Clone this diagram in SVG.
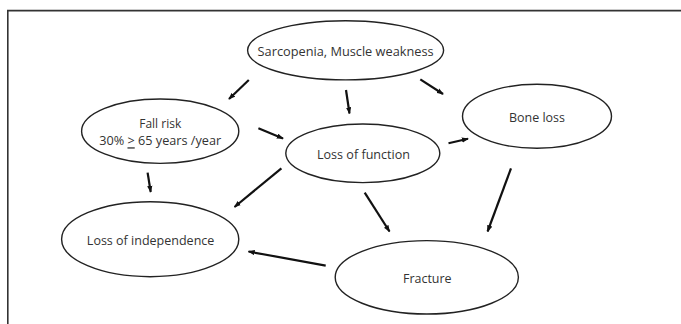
<svg xmlns="http://www.w3.org/2000/svg" width="681" height="324" viewBox="0 0 681 324">
<defs>
<marker id="ah" viewBox="0 0 8 6" refX="7" refY="3" markerWidth="3.2" markerHeight="2.6" orient="auto" markerUnits="strokeWidth">
<path d="M0,0 L8,3 L0,6 Z" fill="#111"/>
</marker>
<style>
.n{fill:#fff;stroke:#222;stroke-width:1.4}
.t{font-family:"Open Sans","Liberation Sans",sans-serif;font-size:13px;fill:#333;text-anchor:middle;dominant-baseline:central}
.c{stroke:#111;stroke-width:2.2;fill:none;marker-end:url(#ah)}
.f{stroke:#333;stroke-width:1.6;fill:none}
</style>
</defs>
<rect width="681" height="324" fill="#fff"/>
<path class="f" d="M7.8,324 V10.6 H681"/>
<g id="connectors">
<line class="c" x1="248.8" y1="80" x2="229" y2="99"/>
<line class="c" x1="346" y1="90" x2="349.5" y2="113.5"/>
<line class="c" x1="420.3" y1="79.3" x2="443" y2="94"/>
<line class="c" x1="258.4" y1="128.3" x2="283" y2="138.5"/>
<line class="c" x1="448.5" y1="143.3" x2="468" y2="138.7"/>
<line class="c" x1="147.6" y1="172.7" x2="150.7" y2="192"/>
<line class="c" x1="281.4" y1="168.3" x2="234.5" y2="207"/>
<line class="c" x1="364.7" y1="192.7" x2="389.5" y2="231.5"/>
<line class="c" x1="511" y1="168.3" x2="487.6" y2="231.5"/>
<line class="c" x1="325.7" y1="265.7" x2="248.5" y2="251.5"/>
</g>
<g id="sarcopenia">
<ellipse class="n" cx="345.6" cy="50.3" rx="98" ry="29.6"/>
<text class="t" x="345.6" y="50.5" textLength="176" lengthAdjust="spacingAndGlyphs">Sarcopenia, Muscle weakness</text>
</g>
<g id="fall-risk">
<ellipse class="n" cx="160.2" cy="131.2" rx="78.6" ry="32.2"/>
<text class="t" x="160.2" y="122.7" textLength="42" lengthAdjust="spacingAndGlyphs">Fall risk</text>
<text class="t" x="160.2" y="140.3" textLength="122" lengthAdjust="spacingAndGlyphs">30% <tspan text-decoration="underline">&gt;</tspan> 65 years /year</text>
</g>
<g id="loss-of-function">
<ellipse class="n" cx="362.8" cy="153.3" rx="77" ry="29.3"/>
<text class="t" x="363.5" y="154" textLength="93" lengthAdjust="spacingAndGlyphs">Loss of function</text>
</g>
<g id="bone-loss">
<ellipse class="n" cx="537" cy="116.3" rx="74.5" ry="32"/>
<text class="t" x="537" y="117.3" textLength="56" lengthAdjust="spacingAndGlyphs">Bone loss</text>
</g>
<g id="loss-of-independence">
<ellipse class="n" cx="150.2" cy="239.2" rx="88.6" ry="37.5"/>
<text class="t" x="150.6" y="240" textLength="127.5" lengthAdjust="spacingAndGlyphs">Loss of independence</text>
</g>
<g id="fracture">
<ellipse class="n" cx="426.8" cy="277.3" rx="91.6" ry="36.7"/>
<text class="t" x="427.3" y="277.7" textLength="48.5" lengthAdjust="spacingAndGlyphs">Fracture</text>
</g>
</svg>
